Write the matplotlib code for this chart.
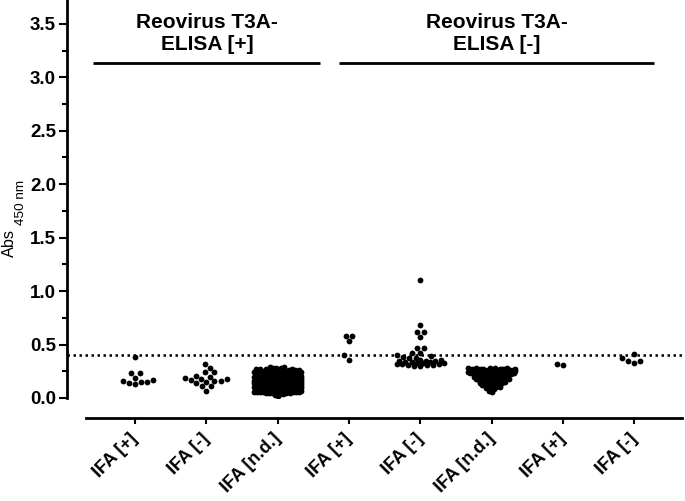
import numpy as np
import matplotlib
matplotlib.use("Agg")
import matplotlib.pyplot as plt

plt.rcParams['font.family'] = ['Liberation Sans', 'DejaVu Sans']

# ---------------- data ----------------
categories = ["IFA [+]", "IFA [-]", "IFA [n.d.]", "IFA [+]", "IFA [-]", "IFA [n.d.]", "IFA [+]", "IFA [-]"]
header_labels = ["Reovirus T3A-\nELISA [+]", "Reovirus T3A-\nELISA [-]"]
threshold = 0.4

elisa_pos_ifa_pos = [0.13, 0.14, 0.15, 0.15, 0.16, 0.17, 0.19, 0.23, 0.23, 0.38]
elisa_pos_ifa_neg = [0.07, 0.11, 0.11, 0.14, 0.15, 0.16, 0.16, 0.17, 0.18, 0.18, 0.19,
                     0.20, 0.21, 0.24, 0.24, 0.28, 0.32]
elisa_pos_nd_values = [0.02, 0.03, 0.04, 0.05, 0.06, 0.07, 0.08, 0.09, 0.10, 0.11, 0.12, 0.13,
                       0.14, 0.15, 0.16, 0.17, 0.18, 0.19, 0.20, 0.21, 0.22, 0.23, 0.24, 0.25,
                       0.26, 0.27, 0.28, 0.29]
elisa_pos_nd_counts = [1, 1, 2, 6, 10, 14, 16, 18, 18, 18, 18, 16,
                       16, 14, 14, 12, 12, 10, 10, 9, 8, 8, 7, 6,
                       5, 4, 3, 2]
elisa_neg_ifa_pos = [0.36, 0.40, 0.53, 0.58, 0.58]
elisa_neg_ifa_neg = [0.30, 0.30, 0.31, 0.31, 0.31, 0.32, 0.32, 0.32, 0.33, 0.33, 0.33,
                     0.34, 0.34, 0.34, 0.35, 0.35, 0.35, 0.36, 0.36, 0.37, 0.37, 0.38,
                     0.39, 0.40, 0.42, 0.42, 0.47, 0.47, 0.57, 0.62, 0.62, 0.68, 1.10]
elisa_neg_nd_values = [0.06, 0.07, 0.08, 0.09, 0.10, 0.11, 0.12, 0.13, 0.14, 0.15, 0.16,
                       0.17, 0.18, 0.19, 0.20, 0.21, 0.22, 0.23, 0.24, 0.25, 0.26, 0.27, 0.28]
elisa_neg_nd_counts = [1, 1, 1, 2, 2, 2, 2, 3, 3, 3, 3,
                       4, 4, 4, 4, 3, 6, 8, 10, 10, 10, 8, 5]
elisa_neg_ifa_pos_b = [0.31, 0.32]
elisa_neg_ifa_neg_b = [0.33, 0.35, 0.35, 0.37, 0.41]

groups = [
    np.array(elisa_pos_ifa_pos),
    np.array(elisa_pos_ifa_neg),
    np.repeat(elisa_pos_nd_values, elisa_pos_nd_counts),
    np.array(elisa_neg_ifa_pos),
    np.array(elisa_neg_ifa_neg),
    np.repeat(elisa_neg_nd_values, elisa_neg_nd_counts),
    np.array(elisa_neg_ifa_pos_b),
    np.array(elisa_neg_ifa_neg_b),
]
header_spans = [(-0.585, 2.595), (2.865, 7.27)]

# ---------------- figure ----------------
fig = plt.figure(figsize=(6.85, 5.01), dpi=100)
ax = fig.add_axes([0.1251, 0.2056, 0.8705, 0.7944])
ax.set_xlim(-0.694, 7.669)
ax.set_ylim(0, 3.723)

for s in ["top", "right"]:
    ax.spines[s].set_visible(False)
for s in ["left", "bottom"]:
    ax.spines[s].set_linewidth(2.0)
ax.spines["left"].set_position(("outward", 13.8))
ax.spines["bottom"].set_position(("outward", 14.4))

ax.set_yticks(np.arange(0, 3.51, 0.5))
ax.set_yticks(np.arange(0.25, 3.7, 0.5), minor=True)
ax.yaxis.set_major_formatter(matplotlib.ticker.FormatStrFormatter('%.1f'))
ax.tick_params(axis='y', which='major', length=5.8, width=1.5, pad=1.8,
               labelsize=13.5)
ax.tick_params(axis='y', which='minor', length=3.6, width=1.5)
for lab in ax.get_yticklabels():
    lab.set_fontweight('bold')

ax.set_xticks(range(len(categories)))
ax.set_xticklabels(categories, rotation=45, ha='right', va='center',
                   rotation_mode='anchor', fontsize=13, fontweight='bold')
ax.tick_params(axis='x', which='major', length=4.5, width=1.5, pad=8.5)

# ---------------- swarm layout (pixel space) ----------------
fig.canvas.draw()
maxhalf = 23.5     # px, half width of a column


def swarm(xc, vals, d):
    pts = ax.transData.transform(np.column_stack([np.full(len(vals), xc), vals]))
    ypix = pts[:, 1]
    order = np.argsort(ypix, kind="stable")
    px_l, py_l = [], []
    off = np.zeros(len(vals))
    grid = np.linspace(-maxhalf, maxhalf, 61)
    for i in order:
        y = ypix[i]
        px = np.array(px_l)
        py = np.array(py_l)
        if len(px):
            m = np.abs(py - y) < d
            nx, ny = px[m], py[m]
        else:
            nx, ny = np.array([]), np.array([])
        cands = [0.0]
        for a, b in zip(nx, ny):
            dx = np.sqrt(max(d * d - (b - y) ** 2, 0))
            cands += [a + dx, a - dx]
        cands = sorted(cands, key=lambda c: (abs(c), c))
        chosen = None
        for c in cands:
            if abs(c) > maxhalf + 1e-6:
                continue
            if len(nx) == 0 or np.all((c - nx) ** 2 + (y - ny) ** 2 >= d * d - 1e-3):
                chosen = c
                break
        if chosen is None:
            dist = np.array([np.min((g - nx) ** 2 + (y - ny) ** 2) for g in grid])
            best = np.max(dist)
            ok = grid[dist >= best - 1e-6]
            chosen = ok[np.argmin(np.abs(ok))]
        off[i] = chosen
        px_l.append(chosen)
        py_l.append(y)
    pts[:, 0] += off
    return ax.transData.inverted().transform(pts)

for xi, vals in enumerate(groups):
    d = 6.3 if len(vals) < 40 else 3.2
    p = swarm(xi, vals, d)
    ax.scatter(p[:, 0], p[:, 1], s=17.5, color='black', linewidths=0, zorder=3)

# threshold line
ax.axhline(threshold, xmin=-0.032, xmax=1.0, color='black', lw=1.8,
           linestyle=(0, (1.0, 1.4)), dash_capstyle='butt', clip_on=False, zorder=2)

# headers
for (x0, x1), lab in zip(header_spans, header_labels):
    ax.plot([x0, x1], [3.13, 3.13], color='black', lw=2.0, clip_on=False,
            solid_capstyle='butt')
    ax.text((x0 + x1) / 2, 3.41, lab, ha='center', va='center', fontsize=15,
            fontweight='bold', linespacing=1.2)

# y label (Abs with subscript)
fig.text(13.5 / 685, (501 - 257) / 501, "Abs", rotation=90, rotation_mode='anchor',
         ha='left', va='baseline', fontsize=11.7)
fig.text(24 / 685, (501 - 225) / 501, "450 nm", rotation=90, rotation_mode='anchor',
         ha='left', va='baseline', fontsize=9.7)

fig.savefig("out.png", dpi=100)
